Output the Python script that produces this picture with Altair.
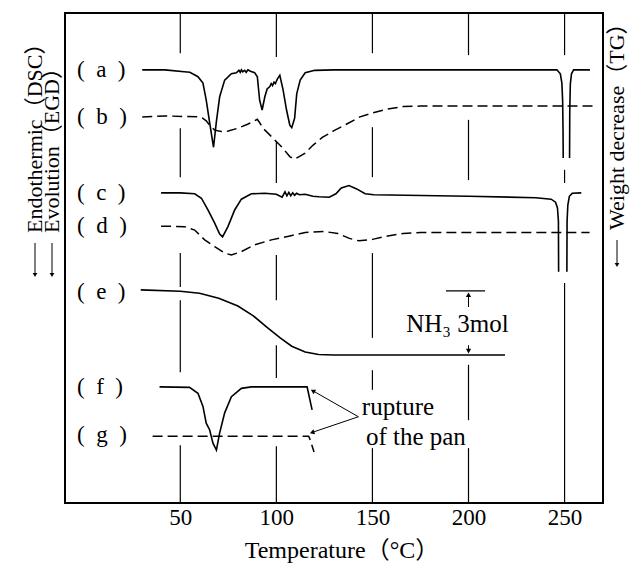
import math
import altair as alt
import pandas as pd

FONT = "'Liberation Serif', 'Noto Sans CJK JP', serif"
W, H = 538, 490
X_DOMAIN = [-10, 270]
Y_DOMAIN = [0, 100]
TICKS = [50, 100, 150, 200, 250]

# ---- curve data (temperature in degC, vertical offset in chart units) ----
a1_T = [30.2, 42, 52, 55, 59.2, 61.8, 63.5, 65.3, 67.3, 68.8, 70.5, 73.1, 76.6, 79.2, 80.5, 81.2, 81.8,
        82.5, 83.5, 84.3, 85.2, 86.5, 88.7, 90.1, 91.3, 92.6, 94.0, 95.2, 96.6, 97.3, 98.0, 98.8, 99.5,
        100.5, 101.8, 103.5, 105.3, 107.0, 108.0, 109.5, 110.6, 112.4, 115, 120, 130, 246, 247.8, 248.6,
        249.0, 249.2, 249.3]
a1_v = [88.4, 88.4, 88.0, 87.9, 87.0, 85.7, 82.2, 77.6, 72.6, 77.9, 82.9, 86.3, 87.6, 87.8, 88.3, 87.9, 88.4,
        88.0, 88.3, 87.9, 88.4, 88.1, 87.8, 87.0, 82.2, 80.2, 82.9, 84.5, 85.0, 85.6, 85.2, 85.9, 85.6,
        86.5, 87.3, 84.3, 80.2, 77.1, 76.6, 78.5, 83.5, 86.3, 87.8, 88.3, 88.4, 88.4, 87.6, 85.7,
        82.0, 76.0, 70.4]
a2_T = [252.6, 252.7, 253.0, 253.6, 254.7, 263.2]
a2_v = [70.4, 80.0, 85.5, 87.6, 88.4, 88.4]

b_T = [30.2, 41.8, 59.2, 61.8, 63.5, 65.3, 67.9, 71.4, 75, 80, 85, 90.1, 91.5, 93, 97.4, 102.7, 107, 109,
       111, 115, 119, 123.9, 130, 136.4, 143.5, 150, 158, 166, 175, 265]
b_v = [78.8, 79.0, 78.8, 78.5, 78.0, 77.1, 76.1, 75.8, 75.9, 76.5, 77.3, 78.3, 77.5, 76.5, 74.8, 72.7, 70.7, 70.2,
       70.5, 71.4, 73.0, 74.6, 76.0, 77.3, 78.8, 79.6, 80.4, 80.9, 81.0, 81.0]

c1_T = [40, 50, 57.5, 61, 64.4, 67.9, 70.5, 72.0, 74.8, 78.3, 81.8, 87, 94, 100, 103, 104.5, 105.5, 106.5,
        107.5, 108.5, 109.5, 110.5, 112, 115, 119, 122.2, 127.5, 131, 133.8, 137.8, 141.8, 146.2, 150.7,
        200, 235, 243, 245.3, 246.3, 246.8, 246.9]
c1_v = [63.3, 63.3, 63.1, 62.2, 59.8, 57.1, 54.9, 54.3, 56.4, 59.8, 62.0, 63.1, 63.2, 63.0, 62.4, 63.5, 62.7, 63.4,
        62.7, 63.3, 62.8, 63.2, 62.9, 63.0, 62.6, 62.5, 62.4, 63.1, 64.3, 64.8, 64.1, 63.1, 62.9,
        62.6, 62.3, 62.0, 61.4, 60.2, 57.5, 47.2]
c2_T = [251.2, 251.3, 251.7, 252.5, 254, 258.7]
c2_v = [47.2, 57.5, 60.8, 62.6, 63.2, 63.3]

d_T = [40, 52.2, 57.5, 62.7, 67.9, 73.1, 76.6, 81.8, 88.7, 97.4, 107, 115, 125, 132, 138, 143, 150, 158, 166,
       175, 263]
d_v = [56.5, 56.4, 55.7, 53.7, 52.3, 51.0, 50.6, 51.3, 52.7, 53.7, 54.5, 55.2, 55.4, 55.0, 54.0, 53.5, 53.8, 54.5,
       55.0, 55.2, 55.2]

e_T = [29.4, 50, 60, 70, 80, 88, 95, 102, 108, 115, 122, 130, 219]
e_v = [43.5, 43.2, 42.8, 41.8, 40.2, 38.2, 35.9, 33.7, 32.0, 30.8, 30.3, 30.2, 30.2]

f_T = [39.2, 54.8, 59.2, 61.8, 63.5, 65.3, 67, 68.8, 70.5, 73.1, 76.6, 81.8, 87, 116, 118.6]
f_v = [23.7, 23.6, 22.4, 19.7, 16.3, 14.9, 12.2, 10.8, 14.3, 18.4, 21.7, 23.4, 23.7, 23.7, 19.0]

g_T = [35.6, 116.8, 117.5, 119.6]
g_v = [13.6, 13.6, 13.0, 10.4]

# curve labels (en spaces give the wide Japanese-style setting)
lab_text = ["(\u2002a\u2002)", "(\u2002b\u2002)", "(\u2002c\u2002)", "(\u2002d\u2002)",
            "(\u2002e\u2002)", "(\u2002f\u2002)", "(\u2002g\u2002)"]
lab_v = [88.4, 78.8, 63.3, 56.5, 43.1, 23.7, 13.9]

# broken vertical grid lines
grid_T = [50, 50, 50, 50, 50,
          100, 100, 100, 100, 100,
          150, 150, 150, 150, 150,
          200, 200, 200, 200,
          250, 250, 250]
grid_lo = [91.8, 66.5, 44.1, 26.7, 0,
           91.0, 65.3, 41.4, 25.5, 0,
           91.8, 66.5, 33.7, 23.1, 0,
           91.4, 65.9, 16.9, 0,
           91.4, 65.3, 0]
grid_hi = [100, 76.5, 51.0, 41.4, 11.8,
           100, 73.7, 50.6, 32.2, 11.6,
           100, 76.7, 51.0, 27.1, 11.2,
           100, 78.2, 28.2, 11.2,
           100, 68.0, 44.9]

# NH3 3mol annotation
nh3_bar_T = [188.3, 208.6]
nh3_bar_v = 43.3
nh3_T = 200
nh3_up = [40.0, 42.5]
nh3_down = [32.2, 31.0]

# rupture annotation
rup_from = (142.7, 17.6)
rup_to_T = [119.0, 118.6]
rup_to_v = [22.9, 14.4]


def seg(key, style, T, v):
    assert len(T) == len(v), key
    return pd.DataFrame({"key": key, "style": style, "T": T, "v": v, "i": list(range(len(T)))})


solid = pd.concat([seg("a1", "s", a1_T, a1_v), seg("a2", "s", a2_T, a2_v),
                   seg("c1", "s", c1_T, c1_v), seg("c2", "s", c2_T, c2_v),
                   seg("e", "s", e_T, e_v), seg("f", "s", f_T, f_v)], ignore_index=True)
dashed = pd.concat([seg("b", "d", b_T, b_v), seg("d", "d", d_T, d_v), seg("g", "d", g_T, g_v)],
                   ignore_index=True)

xs = alt.Scale(domain=X_DOMAIN, nice=False, zero=False)
ys = alt.Scale(domain=Y_DOMAIN, nice=False, zero=False)
xaxis = alt.Axis(values=TICKS, domain=False, ticks=False, grid=False, labelFont=FONT, labelFontSize=23,
                 labelColor="black", labelPadding=3, title=None, labelFlush=False)


def X(f):
    return alt.X(f, type="quantitative", scale=xs, axis=xaxis)


def Y(f):
    return alt.Y(f, type="quantitative", scale=ys, axis=None)


grid_df = pd.DataFrame({"T": grid_T, "lo": grid_lo, "hi": grid_hi})
grid = alt.Chart(grid_df).mark_rule(color="black", strokeWidth=1.2).encode(
    x=X("T"), y=Y("lo"), y2="hi:Q")

solid_l = alt.Chart(solid).mark_line(color="black", strokeWidth=1.6).encode(
    x=X("T"), y=Y("v"), detail="key:N", order="i:Q")
dashed_l = alt.Chart(dashed).mark_line(color="black", strokeWidth=1.5, strokeDash=[10, 5]).encode(
    x=X("T"), y=Y("v"), detail="key:N", order="i:Q")

labels = alt.Chart(pd.DataFrame({"t": lab_text, "v": lab_v})).mark_text(
    font=FONT, fontSize=23, align="left", baseline="middle", color="black").encode(
    x=alt.value(12), y=Y("v"), text="t:N")

# NH3 annotation
bar = alt.Chart(pd.DataFrame({"x1": [nh3_bar_T[0]], "x2": [nh3_bar_T[1]], "v": [nh3_bar_v]})).mark_rule(
    color="black", strokeWidth=1.2).encode(x=X("x1"), x2="x2:Q", y=Y("v"))
arr_df = pd.DataFrame({"T": [nh3_T, nh3_T], "lo": [nh3_up[0], nh3_down[0]], "hi": [nh3_up[1], nh3_down[1]]})
arr = alt.Chart(arr_df).mark_rule(color="black", strokeWidth=1).encode(x=X("T"), y=Y("lo"), y2="hi:Q")


# rupture arrows
def ang(t0, v0, t1, v1):
    dx = (t1 - t0) * W / (X_DOMAIN[1] - X_DOMAIN[0])
    dy = -(v1 - v0) * H / (Y_DOMAIN[1] - Y_DOMAIN[0])
    return math.degrees(math.atan2(dx, -dy)) % 360


rup_df = pd.DataFrame({"T0": [rup_from[0]] * 2, "v0": [rup_from[1]] * 2, "T1": rup_to_T, "v1": rup_to_v})
rup = alt.Chart(rup_df).mark_rule(color="black", strokeWidth=1).encode(
    x=X("T0"), y=Y("v0"), x2="T1:Q", y2="v1:Q")

heads = pd.DataFrame({
    "T": rup_to_T + [nh3_T, nh3_T],
    "v": rup_to_v + [nh3_up[1], nh3_down[1]],
    "ang": [ang(rup_from[0], rup_from[1], rup_to_T[0], rup_to_v[0]),
            ang(rup_from[0], rup_from[1], rup_to_T[1], rup_to_v[1]), 0, 180],
})
head = alt.Chart(heads).mark_point(shape="triangle-up", filled=True, color="black", size=28,
                                   opacity=1).encode(
    x=X("T"), y=Y("v"), angle=alt.Angle("ang:Q", scale=None))

notes = alt.Chart(pd.DataFrame({
    "t": ["NH₃ 3mol", "rupture", "of the pan"],
    "T": [167.6, 144.5, 146.6],
    "v": [35.0, 18.0, 11.8],
})).mark_text(font=FONT, fontSize=25, align="left", baseline="alphabetic", color="black").encode(
    x=X("T"), y=Y("v"), text="t:N")

# axis titles
one = pd.DataFrame({"t": ["Temperature（°C）"]})
xtitle = alt.Chart(one).mark_text(font=FONT, fontSize=24, align="center", baseline="alphabetic",
                                  color="black").encode(x=alt.value(277), y=alt.value(545), text="t:N")

side = pd.DataFrame({"t": ["Endothermic（DSC）", "Evolution（EGD）", "Weight decrease（TG）"],
                     "px": [-30, -13, 552], "py": [220, 220, 217]})
side_t = alt.Chart(side).mark_text(font=FONT, fontSize=22, angle=270, align="left", baseline="middle",
                                   color="black").encode(
    x=alt.X("px:Q", scale=None), y=alt.Y("py:Q", scale=None), text="t:N")

side_arr = pd.DataFrame({"px": [-30, -13, 552], "y1": [230, 230, 227], "y2": [262, 262, 252]})
side_r = alt.Chart(side_arr).mark_rule(color="black", strokeWidth=1).encode(
    x=alt.X("px:Q", scale=None), y=alt.Y("y1:Q", scale=None), y2="y2:Q")
side_h = alt.Chart(side_arr).mark_point(shape="triangle-down", filled=True, color="black", size=22,
                                        opacity=1).encode(
    x=alt.X("px:Q", scale=None), y=alt.Y("y2:Q", scale=None))

chart = alt.layer(grid, solid_l, dashed_l, labels, bar, arr, rup, head, notes, xtitle,
                  side_t, side_r, side_h).resolve_scale(x="shared", y="shared").properties(
    width=W, height=H,
    autosize=alt.AutoSizeParams(type="none"),
    padding={"left": 65, "top": 13, "right": 31, "bottom": 62},
    background="white",
).configure_view(stroke="black", strokeWidth=2)

chart.save("out.html", embed_options={"renderer": "svg", "actions": False})
